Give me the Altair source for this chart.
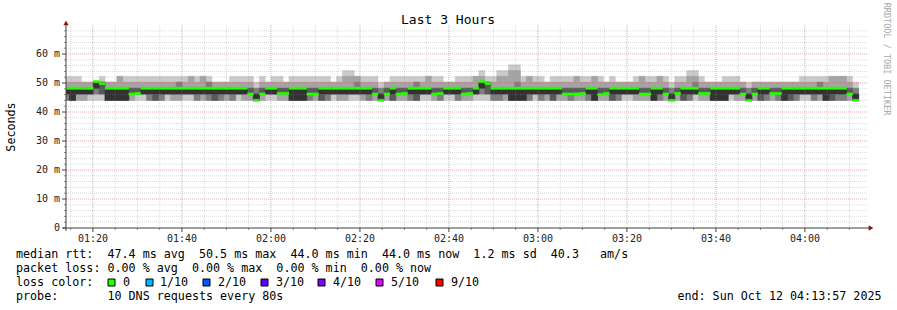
import altair as alt
import pandas as pd

# ---------------- data ----------------
levels_ms = [44.0, 46.2, 48.2, 50.3, 52.3, 54.3, 56.3]   # quantised rtt levels
step_start_min = 73.4          # first 80 s step starts 01:13:24 (minutes of day)
step_len_min = 80 / 60

median_ms = [
    48.2, 48.2, 48.2, 48.2, 48.2, 50.5, 49.8, 48.2, 48.2, 48.2,
    48.2, 46.2, 46.4, 48.2, 48.2, 48.2, 48.2, 48.2, 48.2, 48.2,
    48.2, 48.2, 48.2, 48.2, 48.2, 48.2, 48.2, 48.2, 48.2, 48.2,
    48.2, 46.2, 44.0, 46.2, 48.2, 48.2, 46.4, 46.4, 48.2, 48.2,
    48.2, 46.2, 46.2, 48.2, 48.2, 48.2, 48.2, 48.2, 48.2, 48.2,
    48.2, 48.2, 46.2, 44.0, 46.2, 48.2, 46.2, 46.4, 48.2, 48.2,
    48.2, 48.2, 46.2, 46.4, 48.2, 48.2, 48.2, 46.2, 46.4, 48.2,
    50.5, 49.8, 48.2, 48.2, 48.2, 48.2, 48.2, 48.2, 48.2, 48.2,
    48.2, 48.2, 48.2, 48.2, 46.2, 46.2, 46.2, 46.4, 48.2, 48.2,
    46.0, 46.4, 48.2, 48.2, 48.2, 48.2, 48.2, 46.2, 46.2, 48.2,
    48.2, 46.2, 44.0, 46.4, 48.2, 48.2, 48.2, 46.4, 46.4, 48.2,
    48.2, 48.2, 48.2, 48.2, 46.2, 44.0, 46.2, 48.2, 48.2, 46.4,
    46.4, 48.2, 48.2, 48.2, 48.2, 48.2, 48.2, 48.2, 48.2, 48.2,
    48.2, 48.2, 46.2, 44.0,
]

# 10 sorted pings per step, as indexes into levels_ms
ping_levels = [
    "0001122234", "0000022234", "0011122234", "0011122233", "0111122233",
    "0112233333", "0111223334", "0000022233", "0000022233", "0000022244",
    "0000022234", "0011112234", "0111112234", "0111122234", "0001122234",
    "0000122234", "0001122234", "0111122234", "0011122234", "0011122334",
    "0111122234", "0111122244", "0001122234", "0011122244", "0001122334",
    "0000122233", "0001122233", "0011122233", "0001122234", "0111122234",
    "0011122234", "0011112234", "0000011223", "0011112234", "0111122233",
    "0111122234", "0011112234", "0011112233", "0000022234", "0000022234",
    "0000022234", "0001112234", "0011112234", "0000122234", "0001122234",
    "0111122233", "0011122234", "0011122245", "0111122245", "0111122344",
    "0011122234", "0001122234", "0011112234", "0000011223", "0011112233",
    "0000122234", "0011112234", "0011112234", "0001122234", "0000122334",
    "0111122234", "0111122244", "0011112234", "0001112234", "0111122233",
    "0111122233", "0001122234", "0011112234", "0011112234", "0111122244",
    "0112233345", "0111223334", "0001122234", "0001122245", "0011122245",
    "0000022256", "0000022356", "0000022234", "0001122244", "0111122234",
    "0001122234", "0011122233", "0000122234", "0011122234", "0011112234",
    "0001112234", "0011112244", "0011112234", "0001122234", "0000022244",
    "0011112234", "0011112233", "0000122234", "0001122233", "0111122233",
    "0111122233", "0011122234", "0011112244", "0011112234", "0000022234",
    "0001122244", "0011112234", "0000011223", "0011112234", "0000122234",
    "0001122245", "0111122345", "0011112234", "0011112233", "0000022233",
    "0000022233", "0000022234", "0111122234", "0011122234", "0011112233",
    "0000011223", "0011112233", "0000122233", "0001122233", "0011112233",
    "0001112233", "0000022233", "0000122233", "0001122233", "0111122234",
    "0111122234", "0001122234", "0011122334", "0000022234", "0000122244",
    "0001122244", "0001122244", "0011112234", "0000011223",
]

smoke_shades = ["#cacaca", "#a4a4a4", "#7e7e7e", "#585858", "#323232"]

y_major = [0, 10, 20, 30, 40, 50, 60]
y_major_labels = ["0", "10 m", "20 m", "30 m", "40 m", "50 m", "60 m"]
y_minor = [v for v in range(2, 70, 2) if v % 10 != 0]
x_major = [80, 100, 120, 140, 160, 180, 200, 220, 240]
x_major_labels = ["01:20", "01:40", "02:00", "02:20", "02:40",
                  "03:00", "03:20", "03:40", "04:00"]
x_minor = [v for v in range(75, 255, 5) if v % 20 != 0]

loss_labels = ["0", "1/10", "2/10", "3/10", "4/10", "5/10", "9/10"]
loss_colors = ["#26ff00", "#00b8ff", "#0059ff", "#5e00ff", "#7e00ff", "#dd00ff", "#ff0000"]

# ---------------- tables ----------------
rows = []
for i, s in enumerate(ping_levels):
    t0 = step_start_min + i * step_len_min
    p = [levels_ms[int(c)] for c in s]
    for j in range(5):
        lo, hi = p[j], p[9 - j]
        if hi > lo:
            rows.append({"t0": t0, "t1": t0 + step_len_min, "lo": lo, "hi": hi, "layer": j + 1})
smoke_df = pd.DataFrame(rows).sort_values("layer", kind="stable")

med_df = pd.DataFrame({
    "t0": [step_start_min + i * step_len_min for i in range(len(median_ms))],
    "m": median_ms,
})
med_df["t1"] = med_df["t0"] + step_len_min
med_df["lo"] = med_df["m"] - 0.4
med_df["hi"] = med_df["m"] + 0.4

MONO = "DejaVu Sans Mono"
W, H = 801, 203
xs = alt.Scale(domain=[73.95, 253.95], nice=False, zero=False)
ys = alt.Scale(domain=[0, 70], nice=False, zero=False)
NB = "\u00a0"


def fixed_text(text, x, y, size=11.7, align="left", color="#000000", angle=0, baseline="alphabetic"):
    return alt.Chart(pd.DataFrame({"t": [text.replace(" ", NB)]})).mark_text(
        align=align, baseline=baseline, font=MONO, fontSize=size, color=color, angle=angle
    ).encode(text="t:N", x=alt.value(x), y=alt.value(y))


shade_scale = alt.Scale(domain=[1, 2, 3, 4, 5], range=smoke_shades)

smoke = alt.Chart(smoke_df).mark_rect(clip=True, strokeWidth=0.5).encode(
    x=alt.X("t0:Q", scale=xs, axis=None), x2="t1:Q",
    y=alt.Y("lo:Q", scale=ys, axis=None), y2="hi:Q",
    color=alt.Color("layer:O", scale=shade_scale, legend=None),
    stroke=alt.Stroke("layer:O", scale=shade_scale, legend=None),
)

median = alt.Chart(med_df).mark_rect(clip=True, color="#26ff00", stroke="#26ff00", strokeWidth=0.4).encode(
    x=alt.X("t0:Q", scale=xs, axis=None), x2="t1:Q",
    y=alt.Y("lo:Q", scale=ys, axis=None), y2="hi:Q",
)

grid_y_minor = alt.Chart(pd.DataFrame({"v": y_minor})).mark_rule(
    color="#8f8f8f", opacity=0.3, strokeDash=[1, 1], strokeWidth=1
).encode(y=alt.Y("v:Q", scale=ys, axis=None), x=alt.value(0), x2=alt.value(W))

grid_x_minor = alt.Chart(pd.DataFrame({"v": x_minor})).mark_rule(
    color="#8f8f8f", opacity=0.3, strokeDash=[1, 1], strokeWidth=1
).encode(x=alt.X("v:Q", scale=xs, axis=None), y=alt.value(0), y2=alt.value(H))

grid_y_major = alt.Chart(pd.DataFrame({"v": y_major[1:]})).mark_rule(
    color="#e05050", opacity=0.5, strokeDash=[1, 1], strokeWidth=1
).encode(y=alt.Y("v:Q", scale=ys, axis=None), x=alt.value(0), x2=alt.value(W))

grid_x_major = alt.Chart(pd.DataFrame({"v": x_major})).mark_rule(
    color="#e05050", opacity=0.5, strokeDash=[1, 1], strokeWidth=1
).encode(x=alt.X("v:Q", scale=xs, axis=None), y=alt.value(0), y2=alt.value(H))

AX = "#404040"
tick_y_major = alt.Chart(pd.DataFrame({"v": y_major})).mark_rule(color=AX).encode(
    y=alt.Y("v:Q", scale=ys, axis=None), x=alt.value(-4), x2=alt.value(0))
tick_y_minor = alt.Chart(pd.DataFrame({"v": y_minor})).mark_rule(color=AX, opacity=0.6).encode(
    y=alt.Y("v:Q", scale=ys, axis=None), x=alt.value(-2), x2=alt.value(0))
tick_x_major = alt.Chart(pd.DataFrame({"v": x_major})).mark_rule(color=AX).encode(
    x=alt.X("v:Q", scale=xs, axis=None), y=alt.value(H), y2=alt.value(H + 4))
tick_x_minor = alt.Chart(pd.DataFrame({"v": x_minor})).mark_rule(color=AX, opacity=0.6).encode(
    x=alt.X("v:Q", scale=xs, axis=None), y=alt.value(H), y2=alt.value(H + 2))

axis_left = alt.Chart(pd.DataFrame({"a": [0]})).mark_rule(color=AX).encode(
    x=alt.value(0), y=alt.value(-2), y2=alt.value(H + 3))
axis_bottom = alt.Chart(pd.DataFrame({"a": [0]})).mark_rule(color=AX).encode(
    y=alt.value(H), x=alt.value(-3), x2=alt.value(W + 3))
arrow_up = alt.Chart(pd.DataFrame({"a": [0]})).mark_point(
    shape="triangle-up", filled=True, size=28, color="#8b1010", opacity=1
).encode(x=alt.value(0), y=alt.value(-2))
arrow_right = alt.Chart(pd.DataFrame({"a": [0]})).mark_point(
    shape="triangle-right", filled=True, size=28, color="#8b1010", opacity=1
).encode(x=alt.value(W + 4), y=alt.value(H))

y_labels = alt.Chart(pd.DataFrame({"v": y_major, "t": [s.replace(" ", NB) for s in y_major_labels]})).mark_text(
    align="right", baseline="middle", font=MONO, fontSize=10, color="#222222"
).encode(y=alt.Y("v:Q", scale=ys, axis=None), x=alt.value(-6), text="t:N")

x_labels = alt.Chart(pd.DataFrame({"v": x_major, "t": x_major_labels})).mark_text(
    align="center", baseline="alphabetic", font=MONO, fontSize=10, color="#222222"
).encode(x=alt.X("v:Q", scale=xs, axis=None), y=alt.value(216.5), text="t:N")

title = fixed_text("Last 3 Hours", 382, -1, size=13, align="center")
ytitle = fixed_text("Seconds", -55, 102, size=11.7, align="center", angle=270, baseline="middle")
watermark = fixed_text("RRDTOOL / TOBI OETIKER", 821, 34, size=8.5, align="center",
                       color="#a8a8a8", angle=90, baseline="middle")

line1 = fixed_text("median rtt:  47.4 ms avg  50.5 ms max  44.0 ms min  44.0 ms now  1.2 ms sd  40.3   am/s", -50, 233)
line2 = fixed_text("packet loss: 0.00 % avg  0.00 % max  0.00 % min  0.00 % now", -50, 247)
line3 = fixed_text("loss color:", -50, 261)
line4 = fixed_text("probe:       10 DNS requests every 80s", -50, 275)
line4r = fixed_text("end: Sun Oct 12 04:13:57 2025", 815.5, 275, align="right")

box_x = [42, 80, 137, 195, 252, 310, 370]
lab_x = [57, 94, 152, 210, 267, 325, 385]
loss_df = pd.DataFrame({
    "lab": loss_labels, "col": loss_colors,
    "bx": box_x, "bx2": [b + 7 for b in box_x], "lx": lab_x,
})
loss_boxes = alt.Chart(loss_df).mark_rect(stroke="#000000", strokeWidth=1).encode(
    x=alt.X("bx:Q", scale=None, axis=None), x2="bx2:Q",
    y=alt.value(254), y2=alt.value(261),
    fill=alt.Fill("col:N", scale=None),
)
loss_text = alt.Chart(loss_df).mark_text(
    align="left", baseline="alphabetic", font=MONO, fontSize=11.7, color="#000000"
).encode(x=alt.X("lx:Q", scale=None, axis=None), y=alt.value(261), text="lab:N")

chart = alt.layer(
    smoke,
    grid_y_minor, grid_x_minor, grid_y_major, grid_x_major,
    median,
    tick_y_minor, tick_y_major, tick_x_minor, tick_x_major,
    axis_left, axis_bottom, arrow_up, arrow_right,
    y_labels, x_labels, title, ytitle, watermark,
    line1, line2, line3, line4, line4r, loss_boxes, loss_text,
).properties(
    width=W, height=H,
    padding={"left": 66, "top": 25, "right": 30, "bottom": 82},
    autosize=alt.AutoSizeParams(type="none"),
    background="#ffffff",
).configure_view(stroke=None)

chart.save("out.html", embed_options={"renderer": "svg", "actions": False})
